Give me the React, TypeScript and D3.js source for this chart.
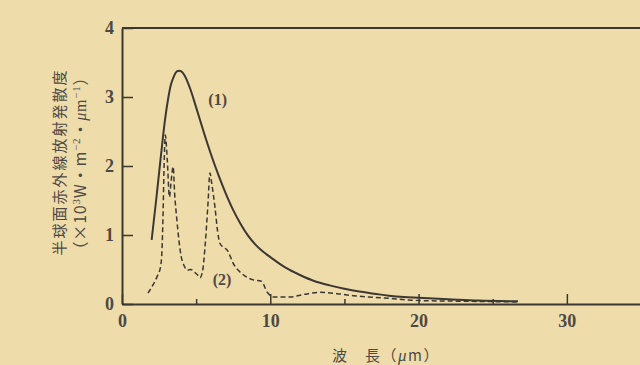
import { useEffect, useRef } from "react"
import * as d3 from "d3"

// curve (1) - solid
const curve1X = [2.0, 2.3, 2.6, 2.9, 3.1, 3.3, 3.5, 3.7, 3.85, 4.0, 4.2, 4.6, 5.0, 5.5, 6.0, 6.5, 7.0, 7.5, 8.0, 8.5, 9.0, 9.5, 10.0, 11.0, 12.0, 13.0, 14.0, 15.0, 16.0, 17.0, 18.0, 19.0, 20.0, 22.0, 24.0, 26.7]
const curve1Y = [0.93, 1.5, 2.1, 2.67, 2.96, 3.18, 3.3, 3.37, 3.38, 3.37, 3.32, 3.12, 2.85, 2.5, 2.17, 1.87, 1.6, 1.36, 1.16, 0.99, 0.86, 0.76, 0.68, 0.53, 0.42, 0.33, 0.27, 0.22, 0.18, 0.15, 0.12, 0.1, 0.09, 0.07, 0.05, 0.04]

// curve (2) - dashed
const curve2X = [1.75, 2.1, 2.35, 2.6, 2.7, 2.76, 2.85, 2.92, 3.05, 3.2, 3.3, 3.45, 3.55, 3.7, 3.85, 4.0, 4.2, 4.4, 4.65, 4.9, 5.1, 5.26, 5.45, 5.6, 5.8, 5.93, 6.05, 6.27, 6.45, 6.6, 6.85, 7.1, 7.5, 8.2, 8.85, 9.4, 9.8, 10.2, 11.3, 12.3, 13.35, 14.5, 15.6, 17.5, 20.1, 23.0, 26.7]
const curve2Y = [0.16, 0.28, 0.39, 0.54, 0.8, 1.22, 2.1, 2.45, 2.1, 1.55, 1.75, 1.99, 1.6, 1.22, 0.9, 0.68, 0.55, 0.49, 0.5, 0.46, 0.42, 0.38, 0.5, 0.83, 1.46, 1.9, 1.75, 1.4, 1.05, 0.88, 0.82, 0.78, 0.59, 0.42, 0.35, 0.33, 0.17, 0.1, 0.1, 0.14, 0.17, 0.15, 0.12, 0.09, 0.05, 0.04, 0.03]

const xMajorTicks = [0, 10, 20, 30]
const xMinorTicks = [5, 15, 25]
const yTicks = [0, 1, 2, 3, 4]
const seriesLabels = ["(1)", "(2)"]
const yTitle = "半球面赤外線放射発散度"
const xTitle = ["波　長（", "μ", "m）"]

const W = 640
const H = 365
const ink = "#3b3733"
const textInk = "#4e4944"
const numFont = "'Liberation Serif', serif"
const cjkFont = "'Noto Sans CJK JP', sans-serif"

export default function App() {
  const ref = useRef<SVGSVGElement | null>(null)

  useEffect(() => {
    const svg = d3.select(ref.current)
    svg.selectAll("*").remove()

    svg.append("rect").attr("width", W).attr("height", H).attr("fill", "#efdcab")

    const x = d3.scaleLinear().domain([0, 35]).range([122, 641])
    const y = d3.scaleLinear().domain([0, 4]).range([304, 28])

    // minor x ticks
    svg.append("g")
      .attr("transform", `translate(0,${y(0)})`)
      .call(d3.axisBottom(x).tickValues(xMinorTicks).tickSize(-5).tickSizeOuter(0).tickFormat(() => ""))
      .call(g => g.select(".domain").remove())
      .call(g => g.selectAll("line").attr("stroke", ink).attr("stroke-width", 1.5))

    // major x axis
    svg.append("g")
      .attr("transform", `translate(0,${y(0)})`)
      .call(d3.axisBottom(x).tickValues(xMajorTicks).tickSize(-10).tickSizeOuter(0).tickPadding(10).tickFormat(d3.format("d")))
      .call(g => g.select(".domain").attr("stroke", ink).attr("stroke-width", 2))
      .call(g => g.selectAll("line").attr("stroke", ink).attr("stroke-width", 1.5))
      .call(g => g.selectAll("text").attr("font-family", numFont).attr("font-weight", "bold").attr("font-size", 18).attr("fill", textInk))

    // y axis
    svg.append("g")
      .attr("transform", `translate(${x(0)},0)`)
      .call(d3.axisLeft(y).tickValues(yTicks).tickSize(-11).tickSizeOuter(0).tickPadding(8).tickFormat(d3.format("d")))
      .call(g => g.select(".domain").attr("stroke", ink).attr("stroke-width", 2))
      .call(g => g.selectAll("line").attr("stroke", ink).attr("stroke-width", 1.5))
      .call(g => g.selectAll("text").attr("font-family", numFont).attr("font-weight", "bold").attr("font-size", 18).attr("fill", textInk))

    // top border
    svg.append("line")
      .attr("x1", x(0)).attr("x2", x(35))
      .attr("y1", y(4)).attr("y2", y(4))
      .attr("stroke", ink).attr("stroke-width", 2)

    const line = d3.line<[number, number]>()
      .x(d => x(d[0]))
      .y(d => y(d[1]))
      .curve(d3.curveMonotoneX)

    const s1 = curve1X.map((v, i) => [v, curve1Y[i]] as [number, number])
    const s2 = curve2X.map((v, i) => [v, curve2Y[i]] as [number, number])

    svg.append("path")
      .attr("d", line(s2))
      .attr("fill", "none")
      .attr("stroke", ink)
      .attr("stroke-width", 1.5)
      .attr("stroke-dasharray", "5 3")

    svg.append("path")
      .attr("d", line(s1))
      .attr("fill", "none")
      .attr("stroke", ink)
      .attr("stroke-width", 2)

    // series labels
    svg.append("text")
      .attr("x", x(6.45)).attr("y", y(2.96))
      .attr("dy", "0.35em")
      .attr("text-anchor", "middle")
      .attr("font-family", numFont).attr("font-weight", "bold").attr("font-size", 16).attr("fill", textInk)
      .text(seriesLabels[0])

    svg.append("text")
      .attr("x", x(6.75)).attr("y", y(0.35))
      .attr("dy", "0.35em")
      .attr("text-anchor", "middle")
      .attr("font-family", numFont).attr("font-weight", "bold").attr("font-size", 16).attr("fill", textInk)
      .text(seriesLabels[1])

    // x title
    const xt = svg.append("text")
      .attr("x", 386).attr("y", 361)
      .attr("text-anchor", "middle")
      .attr("font-family", cjkFont).attr("font-size", 15).attr("fill", textInk)
      .attr("letter-spacing", 1.5)
    xTitle.forEach((t, i) => {
      xt.append("tspan")
        .attr("font-family", i === 0 ? cjkFont : i === 1 ? numFont : cjkFont)
        .attr("font-style", i === 1 ? "italic" : "normal")
        .attr("font-size", i === 1 ? 17 : 15)
        .text(t)
    })

    // y title, two rotated lines
    svg.append("text")
      .attr("transform", "translate(65,162) rotate(-90)")
      .attr("text-anchor", "middle")
      .attr("font-family", cjkFont).attr("font-size", 15).attr("fill", textInk)
      .attr("letter-spacing", 2)
      .text(yTitle)

    const unit = svg.append("text")
      .attr("transform", "translate(86,163) rotate(-90)")
      .attr("text-anchor", "middle")
      .attr("font-family", numFont).attr("font-size", 16).attr("fill", textInk)
      .attr("letter-spacing", 0.8)
    const parts: [string, number][] = [
      ["（×10", 0], ["3", -6], ["W・m", 6], ["−2", -6], ["・", 6], ["μ", 0], ["m", 0], ["−1", -6], ["）", 6],
    ]
    parts.forEach(([t, dy]) => {
      unit.append("tspan")
        .attr("dy", dy)
        .attr("font-size", dy < 0 ? 11 : 16)
        .attr("font-style", t === "μ" ? "italic" : "normal")
        .attr("font-family", /[（）・×]/.test(t) ? cjkFont : numFont)
        .text(t)
    })
  }, [])

  return (
    <div style={{ position: "fixed", left: 0, top: 0 }}>
      <svg ref={ref} width={W} height={H} style={{ display: "block" }} />
    </div>
  )
}
